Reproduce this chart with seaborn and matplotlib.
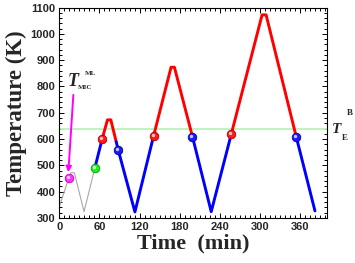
import pandas as pd
import seaborn as sns
import matplotlib.pyplot as plt
import matplotlib.ticker as mticker
import matplotlib.transforms as mtransforms

# pre-treatment trace (gray)
pre_time = [0, 14, 17.5, 22.5, 37, 53]
pre_temp = [343, 451, 472, 472, 324, 489]

# main heating / cooling trace
cycle_time = [53, 64, 72, 77, 85, 88, 113, 141, 167, 172, 199, 227, 257, 303, 309, 354, 382]
cycle_temp = [489, 600, 673, 673, 590, 559, 323, 613, 873, 873, 609, 324, 619, 1072, 1072, 609, 327]
# phase of each piece between consecutive points
cycle_phase = ["cool", "heat", "heat", "heat", "cool", "cool", "cool", "heat",
               "heat", "heat", "cool", "cool", "heat", "heat", "heat", "cool"]

# marked points
red_time = [64, 141, 257]
red_temp = [600, 613, 619]
blue_time = [88, 199, 354]
blue_temp = [559, 609, 609]
green_time = [53]
green_temp = [489]
mic_time = [14]
mic_temp = [451]

te_b = 637

sns.set_theme(style="ticks")
plt.rcParams["font.family"] = ["Liberation Sans", "DejaVu Sans"]

fig = plt.figure(figsize=(3.55, 2.63), dpi=100)
ax = fig.add_axes([59.3 / 355, 1 - 218 / 263, (327 - 59.3) / 355, (218 - 7.5) / 263])

ax.axhline(te_b, color="#b9f3b9", lw=1.3, zorder=1)

sns.lineplot(x=pre_time, y=pre_temp, color="#a8a8a8", lw=0.8, sort=False,
             estimator=None, ax=ax, zorder=2)

# split trace into runs of the same phase
phase_color = {"heat": "#ff0000", "cool": "#0000ff"}
start = 0
for i in range(1, len(cycle_phase) + 1):
    if i == len(cycle_phase) or cycle_phase[i] != cycle_phase[start]:
        run = pd.DataFrame({"time": cycle_time[start:i + 1], "temp": cycle_temp[start:i + 1]})
        sns.lineplot(data=run, x="time", y="temp", color=phase_color[cycle_phase[start]],
                     lw=2.1, sort=False, estimator=None, ax=ax, zorder=3)
        start = i

# sphere-like markers with a small highlight
hl = mtransforms.offset_copy(ax.transData, fig=fig, x=-1.0, y=1.0, units="dots")
for xs, ys, fc, ec in [(red_time, red_temp, "#ff1a1a", "#b00000"),
                       (blue_time, blue_temp, "#1a1aff", "#0000a0"),
                       (green_time, green_temp, "#22ee22", "#00a000"),
                       (mic_time, mic_temp, "#ff33ff", "#c000c0")]:
    sns.scatterplot(x=xs, y=ys, s=38, color=fc, edgecolor=ec, linewidth=0.6, ax=ax, zorder=5)
    ax.scatter(xs, ys, s=6, color="white", alpha=0.75, lw=0, transform=hl, zorder=6)

ax.annotate("", xy=(13.5, 474), xytext=(21, 768),
            arrowprops=dict(arrowstyle="-|>", color="#ff00ff", lw=1.4, mutation_scale=8,
                            shrinkA=0, shrinkB=0), zorder=4)

serif = ["Liberation Serif", "DejaVu Serif"]
ax.text(12.5, 802, "T", fontsize=13, fontweight="bold", style="italic", family=serif)
ax.text(28, 792, "MIC", fontsize=5, fontweight="bold", family=serif)
ax.text(38, 843, "ML", fontsize=5, fontweight="bold", family=serif)

ax.text(408, 623, "T", fontsize=11, fontweight="bold", style="italic", family=serif, clip_on=False)
ax.text(422, 597, "E", fontsize=6.5, fontweight="bold", family=serif, clip_on=False)
ax.text(430, 690, "B", fontsize=6.5, fontweight="bold", family=serif, clip_on=False)

ax.set_xlim(0, 400)
ax.set_ylim(300, 1100)
ax.xaxis.set_major_locator(mticker.MultipleLocator(60))
ax.xaxis.set_minor_locator(mticker.AutoMinorLocator(8))
ax.yaxis.set_major_locator(mticker.MultipleLocator(100))
ax.yaxis.set_minor_locator(mticker.AutoMinorLocator(5))
ax.tick_params(which="both", direction="in", top=True, right=True, color="black", width=0.7)
ax.tick_params(which="major", length=3.5, labelsize=8, pad=3)
ax.tick_params(which="minor", length=2)
for lab in ax.get_xticklabels() + ax.get_yticklabels():
    lab.set_fontweight("bold")
for sp in ax.spines.values():
    sp.set_color("black")
    sp.set_linewidth(0.8)

ax.set_xlabel("Time  (min)", fontsize=16, fontweight="bold", family=serif, labelpad=1)
ax.set_ylabel("Temperature (K)", fontsize=16.5, fontweight="bold", family=serif, labelpad=2)

fig.savefig("out.png", dpi=100)
